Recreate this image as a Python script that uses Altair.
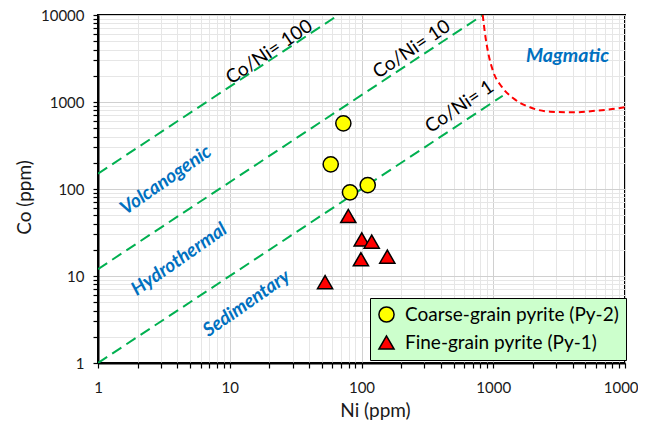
import altair as alt
import pandas as pd

# ---- data ----
coarse_ni = [72.8, 58.4, 111.5, 81.8]
coarse_co = [569, 192, 111, 91.6]
fine_ni = [79.4, 100.4, 119.5, 99, 157, 52.9]
fine_co = [49, 26.4, 24.8, 15.6, 16.7, 8.5]

series_names = ["Coarse-grain pyrite (Py-2)", "Fine-grain pyrite (Py-1)"]

# Co/Ni reference lines (endpoints)
ratio_names = ["100", "10", "1"]
ratio_ni = [[1, 66.7], [1, 833], [1, 1180]]
ratio_co = [[150, 10000], [12, 10000], [1, 1180]]

# magmatic boundary (red dashed)
mag_ni = [832, 865, 917, 1000, 1159, 1420, 1900, 2700, 4055, 6100, 8000, 10000]
mag_co = [10000, 6165, 3630, 2230, 1500, 1103, 869, 774, 762, 795, 830, 870]

# annotations
ratio_labels = ["Co/Ni= 100", "Co/Ni= 10", "Co/Ni= 1"]
ratio_label_ni = [19.9, 240, 554]
ratio_label_co = [3757, 4045, 883]

region_labels = ["Volcanogenic", "Hydrothermal", "Sedimentary"]
region_label_ni = [3.27, 4.13, 13.4]
region_label_co = [127, 15.6, 4.86]

magmatic_label = ["Magmatic"]
magmatic_ni = [3660]
magmatic_co = [3398]

tick_vals = [m * 10 ** e for e in range(4) for m in range(1, 10)] + [10000]

FONT = "Lato"

# ---- tables ----
pts = pd.DataFrame({
    "Ni": coarse_ni + fine_ni,
    "Co": coarse_co + fine_co,
    "type": [series_names[0]] * len(coarse_ni) + [series_names[1]] * len(fine_ni),
})
lines_rows = []
for name, xs, ys in zip(ratio_names, ratio_ni, ratio_co):
    for i, (x, y) in enumerate(zip(xs, ys)):
        lines_rows.append({"ratio": name, "Ni": x, "Co": y, "o": i})
lines_df = pd.DataFrame(lines_rows)
mag_df = pd.DataFrame({"Ni": mag_ni, "Co": mag_co, "o": list(range(len(mag_ni)))})
rl_df = pd.DataFrame({"Ni": ratio_label_ni, "Co": ratio_label_co, "t": ratio_labels})
reg_df = pd.DataFrame({"Ni": region_label_ni, "Co": region_label_co, "t": region_labels})
mag_lab_df = pd.DataFrame({"Ni": magmatic_ni, "Co": magmatic_co, "t": magmatic_label})

major_test = "indexof([1,10,100,1000,10000], datum.value) >= 0"
label_expr = major_test + " ? format(datum.value, 'd') : ''"

xscale = alt.Scale(type="log", domain=[1, 10000], nice=False)
yscale = alt.Scale(type="log", domain=[1, 10000], nice=False)

grid_color = {"condition": {"test": major_test, "value": "#D0D0D0"}, "value": "#E6E6E6"}

xaxis = alt.Axis(
    values=tick_vals, labelExpr=label_expr, title="Ni (ppm)",
    gridColor=grid_color, labelFlush=False, labelOverlap=False, titleX=277,
)
yaxis = alt.Axis(
    values=tick_vals, labelExpr=label_expr, title="Co (ppm)",
    gridColor=grid_color, labelOverlap=False, titleY=182,
)

X = alt.X("Ni:Q", scale=xscale, axis=xaxis)
Y = alt.Y("Co:Q", scale=yscale, axis=yaxis)
Xn = alt.X("Ni:Q", scale=xscale)
Yn = alt.Y("Co:Q", scale=yscale)

base_lines = alt.Chart(lines_df).mark_line(
    color="#00B050", strokeWidth=2, strokeDash=[11, 6], clip=True
).encode(x=X, y=Y, detail="ratio:N", order="o:Q")

mag_line = alt.Chart(mag_df).mark_line(
    color="#FF0000", strokeWidth=2, strokeDash=[6, 4], clip=True, interpolate="monotone"
).encode(x=Xn, y=Yn, order="o:Q")

ratio_text = alt.Chart(rl_df).mark_text(
    font=FONT, fontSize=19, angle=326, color="black"
).encode(x=Xn, y=Yn, text="t:N")

region_text = alt.Chart(reg_df).mark_text(
    font=FONT, fontSize=19, angle=325, color="#0070C0", fontWeight="bold", fontStyle="italic"
).encode(x=Xn, y=Yn, text="t:N")

mag_text = alt.Chart(mag_lab_df).mark_text(
    font=FONT, fontSize=19.5, color="#0070C0", fontWeight="bold", fontStyle="italic"
).encode(x=Xn, y=Yn, text="t:N")

legend = alt.Legend(
    title=None, orient="none", legendX=272, legendY=283,
    fillColor="#CCFFCC", strokeColor="black", padding=7,
    labelFont=FONT, labelFontSize=19, labelColor="black", symbolSize=230,
    symbolStrokeWidth=1.5, rowPadding=6, labelOffset=9,
    labelLimit=400, symbolOpacity=1,
)

points = alt.Chart(pts).mark_point(
    filled=True, strokeWidth=1.5, size=230, opacity=1
).encode(
    x=Xn, y=Yn,
    color=alt.Color("type:N", scale=alt.Scale(domain=series_names, range=["#FFFF00", "#FF0000"]), legend=legend),
    shape=alt.Shape("type:N", scale=alt.Scale(domain=series_names, range=["circle", "triangle-up"]), legend=legend),
    stroke=alt.Stroke("type:N", scale=alt.Scale(domain=series_names, range=["black", "black"]), legend=legend),
)

chart = alt.layer(base_lines, mag_line, ratio_text, region_text, mag_text, points).properties(
    width=527, height=348,
    autosize=alt.AutoSizeParams(type="none"),
    padding={"left": 90, "top": 7, "right": 13, "bottom": 61},
).configure_axis(
    domainColor="black", domainWidth=2, tickColor="black", tickWidth=1.2, tickSize=5,
    labelFont=FONT, labelFontSize=15, labelColor="#1a1a1a",
    titleFont=FONT, titleFontSize=19, titleFontWeight="normal", titleColor="#1a1a1a",
    gridWidth=1,
).configure_axisX(labelPadding=12, titlePadding=6).configure_axisY(
    labelPadding=9, titlePadding=6
).configure_view(stroke="black", strokeWidth=2)

chart.save("out.html", embed_options={"renderer": "svg", "actions": False})
